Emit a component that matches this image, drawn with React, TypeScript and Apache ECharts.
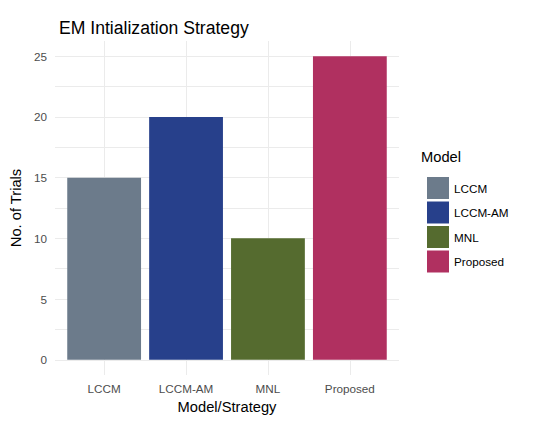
import React, { useEffect, useRef } from "react";
import * as echarts from "echarts";

const categories = ["LCCM", "LCCM-AM", "MNL", "Proposed"];
const trials = [15, 20, 10, 25];
const colors = ["#6C7B8B", "#27408B", "#556B2F", "#B03060"];
const yTickLabels = [0, 5, 10, 15, 20, 25];
const yGridValues = [0, 2.5, 5, 7.5, 10, 12.5, 15, 17.5, 20, 22.5, 25];
const xPositions = [1, 2, 3, 4];

export default function App() {
  const ref = useRef<HTMLDivElement>(null);
  useEffect(() => {
    if (!ref.current) return;
    const chart = echarts.init(ref.current, null, { renderer: "svg" });
    const font = "Liberation Sans, Arial, sans-serif";
    chart.setOption({
      animation: false,
      backgroundColor: "#ffffff",
      textStyle: { fontFamily: font },
      title: {
        text: "EM Intialization Strategy",
        left: 54,
        top: 14,
        textStyle: { fontSize: 17.6, fontWeight: "normal", color: "#000000", fontFamily: font },
      },
      grid: { left: 55, right: 150, top: 41, bottom: 52, containLabel: false },
      legend: {
        orient: "vertical",
        left: 422,
        top: 172,
        itemWidth: 22,
        itemHeight: 22,
        itemGap: 2.5,
        icon: "rect",
        data: categories,
        textStyle: { fontSize: 11.7, color: "#000000", fontFamily: font },
        selectedMode: false,
      },
      graphic: [
        {
          type: "text",
          left: 421,
          top: 149,
          style: { text: "Model", fontSize: 14.7, fill: "#000000", fontFamily: font },
        },
      ],
      xAxis: {
        type: "value",
        min: 0.4,
        max: 4.6,
        name: "Model/Strategy",
        nameLocation: "middle",
        nameGap: 24,
        nameTextStyle: { fontSize: 14.7, color: "#000000", fontFamily: font },
        axisLine: { show: false },
        axisTick: { show: false, customValues: xPositions },
        axisLabel: {
          customValues: xPositions,
          formatter: (v: number) => categories[Math.round(v) - 1] ?? "",
          color: "#4D4D4D",
          fontSize: 11.7,
          margin: 7,
          fontFamily: font,
        },
        splitLine: { show: true, lineStyle: { color: "#EBEBEB", width: 1 } },
      },
      yAxis: {
        type: "value",
        min: -1.25,
        max: 26.25,
        name: "No. of Trials",
        nameLocation: "middle",
        nameGap: 25,
        nameTextStyle: { fontSize: 14.7, color: "#000000", fontFamily: font },
        axisLine: { show: false },
        axisTick: { show: false, customValues: yGridValues },
        axisLabel: {
          customValues: yTickLabels,
          color: "#4D4D4D",
          fontSize: 11.7,
          margin: 8,
          fontFamily: font,
        },
        splitLine: { show: true, lineStyle: { color: "#EBEBEB", width: 1 } },
      },
      series: categories.map((c, i) => ({
        type: "bar",
        name: c,
        stack: "all",
        barWidth: 73.8,
        itemStyle: { color: colors[i] },
        data: [[xPositions[i], trials[i]]],
      })),
    });
    return () => chart.dispose();
  }, []);
  return (
    <div
      ref={ref}
      style={{ position: "fixed", left: 0, top: 0, width: 549, height: 427 }}
    />
  );
}
